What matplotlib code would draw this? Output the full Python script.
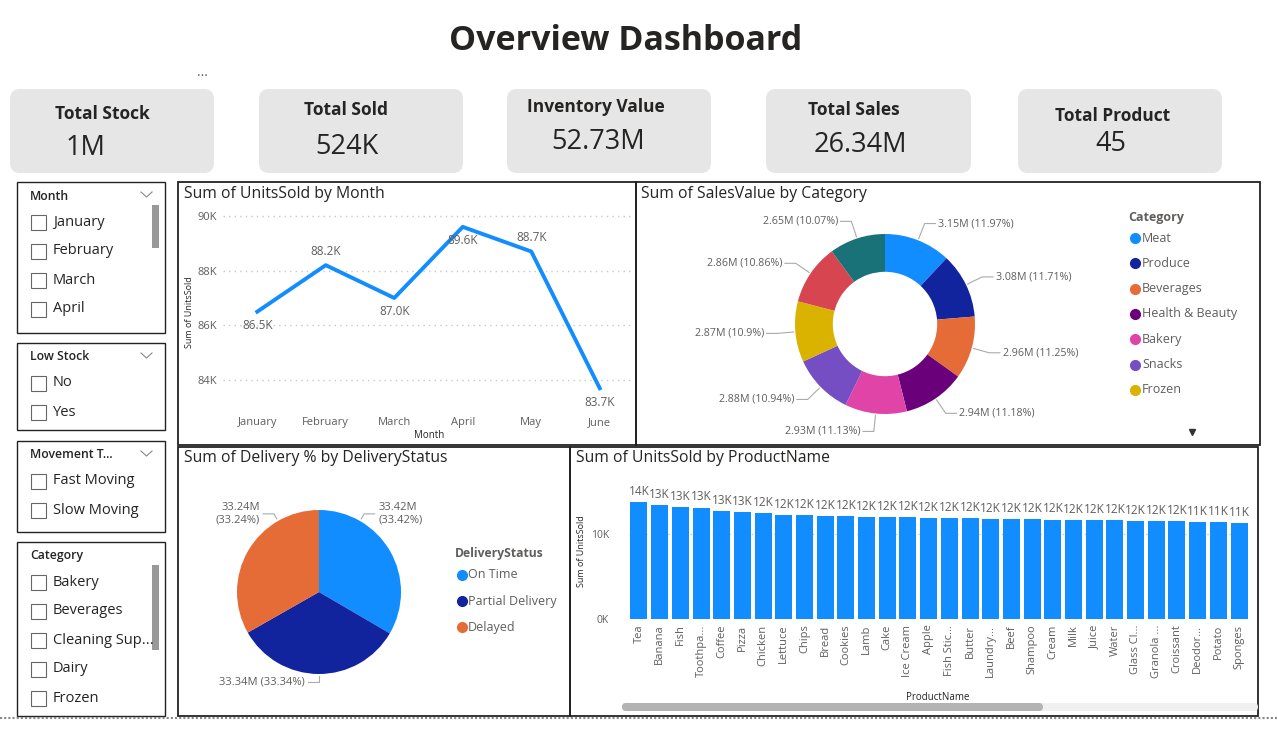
import matplotlib
matplotlib.use("Agg")
import matplotlib.pyplot as plt
from matplotlib.patches import FancyBboxPatch, Rectangle
import numpy as np

plt.rcParams['font.family'] = ['Open Sans', 'DejaVu Sans']

W, H = 1277, 739
DARK = '#252423'
GREY = '#605E5C'

# ---- data ----
kpi_names = ["Total Stock", "Total Sold", "Inventory Value", "Total Sales", "Total Product"]
kpi_values = ["1M", "524K", "52.73M", "26.34M", "45"]

months = ["January", "February", "March", "April", "May", "June"]
units_by_month = [86.5, 88.2, 87.0, 89.6, 88.7, 83.7]  # thousands

categories = ["Meat", "Produce", "Beverages", "Health & Beauty", "Bakery",
              "Snacks", "Frozen", "Dairy", "Cleaning Supplies"]
sales_by_cat = [3.15, 3.08, 2.96, 2.94, 2.93, 2.88, 2.87, 2.86, 2.65]  # millions
sales_pct = [11.97, 11.71, 11.25, 11.18, 11.13, 10.94, 10.9, 10.86, 10.07]
cat_colors = ['#118DFF', '#12239E', '#E66C37', '#6B007B', '#E044A7',
              '#744EC2', '#D9B300', '#D64550', '#197278']
legend_shown = 7

delivery_status = ["On Time", "Partial Delivery", "Delayed"]
delivery_vals = [33.42, 33.34, 33.24]
delivery_colors = ['#118DFF', '#12239E', '#E66C37']

products = ["Tea", "Banana", "Fish", "Toothpa...", "Coffee", "Pizza", "Chicken",
            "Lettuce", "Chips", "Bread", "Cookies", "Lamb", "Cake", "Ice Cream",
            "Apple", "Fish Stic...", "Butter", "Laundry...", "Beef", "Shampoo",
            "Cream", "Milk", "Juice", "Water", "Glass Cl...", "Granola ...",
            "Croissant", "Deodor...", "Potato", "Sponges"]
units_by_product = [13.76, 13.4, 13.2, 13.1, 12.7, 12.6, 12.5, 12.2, 12.2, 12.1,
                    12.1, 12.0, 12.0, 11.95, 11.9, 11.9, 11.85, 11.8, 11.8, 11.8,
                    11.7, 11.65, 11.65, 11.6, 11.55, 11.53, 11.52, 11.45, 11.4, 11.3]

month_items = ["January", "February", "March", "April"]
lowstock_items = ["No", "Yes"]
movement_items = ["Fast Moving", "Slow Moving"]
category_items = ["Bakery", "Beverages", "Cleaning Sup...", "Dairy", "Frozen"]

# ---- figure ----
fig = plt.figure(figsize=(W / 100, H / 100), dpi=100)
bg = fig.add_axes([0, 0, 1, 1], zorder=0)
bg.set_xlim(0, W)
bg.set_ylim(H, 0)
bg.axis('off')


def add_ax(x0, y0, x1, y1):
    a = fig.add_axes([x0 / W, 1 - y1 / H, (x1 - x0) / W, (y1 - y0) / H], zorder=2)
    a.patch.set_alpha(0)
    return a


bg.text(626, 41, "Overview Dashboard", fontsize=24.5, fontweight='bold',
        color=DARK, ha='center', va='center')
bg.text(202, 72, "...", fontsize=10, color=GREY, ha='center', va='center')

# KPI cards
card_x = [(10, 214), (259, 463), (507, 711), (766, 971), (1018, 1222)]
title_xy = [(102, 114), (346, 110), (596, 107), (854, 110), (1113, 116)]
value_xy = [(86, 148), (347, 147), (598, 142), (860, 145), (1111, 144)]
for (x0, x1), name, val, txy, vxy in zip(card_x, kpi_names, kpi_values, title_xy, value_xy):
    bg.add_patch(FancyBboxPatch((x0, 89), x1 - x0, 84,
                                boxstyle="round,pad=0,rounding_size=10",
                                fc='#E6E6E6', ec='none'))
    bg.text(*txy, name, fontsize=12.5, fontweight='bold', color=DARK,
            ha='center', va='center')
    bg.text(*vxy, val, fontsize=19.5, color=DARK, ha='center', va='center')

# slicers
slicers = [("Month", month_items, 182, 333, True, (205, 248)),
           ("Low Stock", lowstock_items, 343, 430, True, None),
           ("Movement T...", movement_items, 441, 532, True, None),
           ("Category", category_items, 542, 716, False, (565, 650))]
for title, items, y0, y1, chevron, scroll in slicers:
    bg.add_patch(Rectangle((17, y0), 148, y1 - y0, fc='white', ec='#222222', lw=1))
    bg.text(30, y0 + 14, title, fontsize=8.8, fontweight='semibold', color=DARK,
            va='center')
    if chevron:
        bg.plot([141, 146.5, 152], [y0 + 10, y0 + 15, y0 + 10], color='#888888', lw=0.8)
    if scroll:
        bg.add_patch(Rectangle((152, scroll[0]), 7, scroll[1] - scroll[0],
                               fc='#999999', ec='none'))
    for i, it in enumerate(items):
        yy = y0 + 40 + i * 29
        bg.add_patch(Rectangle((31, yy - 7.5), 15, 15, fc='white', ec='#666666', lw=0.8))
        bg.text(53, yy, it, fontsize=10.5, color=DARK, va='center')

# panel borders
panels = [(178, 182, 636, 445), (636, 182, 1260, 445),
          (178, 447, 570, 716), (570, 447, 1258, 716)]
for x0, y0, x1, y1 in panels:
    bg.add_patch(Rectangle((x0, y0), x1 - x0, y1 - y0, fill=False,
                           ec='#222222', lw=1.3))
bg.plot([0, W], [718, 718], color='#888888', ls=(0, (1, 1)), lw=1.5)

panel_titles = [(184, 194, "Sum of UnitsSold by Month"),
                (641, 194, "Sum of SalesValue by Category"),
                (184, 458, "Sum of Delivery % by DeliveryStatus"),
                (576, 458, "Sum of UnitsSold by ProductName")]
for x, y, t in panel_titles:
    bg.text(x, y, t, fontsize=11.3, color=DARK, va='center')

# ---- line chart ----
ax1 = add_ax(223, 205, 634, 400)
xs = np.arange(len(months))
ax1.plot(xs, units_by_month, color='#118DFF', lw=2.8)
ax1.set_xlim(-0.5, len(months) - 0.5)
ax1.set_ylim(83.27, 90.4)
ax1.set_yticks([84, 86, 88, 90])
ax1.set_yticklabels([f"{v}K" for v in [84, 86, 88, 90]])
ax1.set_xticks(xs)
ax1.set_xticklabels(months)
ax1.tick_params(length=0, labelsize=8, labelcolor=GREY)
ax1.tick_params(axis='x', pad=12)
ax1.tick_params(axis='y', pad=4)
ax1.yaxis.grid(True, ls=(0, (1, 3)), color='#C8C8C8', lw=1)
for s in ax1.spines.values():
    s.set_visible(False)
label_side = [-1, 1, -1, -1, 1, -1]
for x, v, side in zip(xs, units_by_month, label_side):
    ax1.annotate(f"{v:.1f}K", (x, v), xytext=(0, 10 * side), textcoords='offset points',
                 ha='center', va='center', fontsize=8.5, color=GREY)
bg.text(189, 312, "Sum of UnitsSold", rotation=90, fontsize=6.5, color=DARK,
        ha='center', va='center')
bg.text(429, 435, "Month", fontsize=7, color=DARK, ha='center', va='center')

# ---- donut ----
ax2 = add_ax(795, 234, 975, 414)
wedges, _ = ax2.pie(sales_by_cat, colors=cat_colors, startangle=90, counterclock=False,
                    radius=1, wedgeprops=dict(width=0.42, linewidth=0))
ax2.set_xlim(-1, 1)
ax2.set_ylim(-1, 1)
for w, v, p in zip(wedges, sales_by_cat, sales_pct):
    a = np.deg2rad((w.theta1 + w.theta2) / 2)
    c, s = np.cos(a), np.sin(a)
    sgn = 1 if c >= 0 else -1
    x1, y1 = 1.02 * c, 1.02 * s
    x2, y2 = 1.2 * c, 1.2 * s
    x3 = x2 + sgn * 0.12
    ax2.plot([x1, x2, x3], [y1, y2, y2], color='#AAAAAA', lw=0.8, clip_on=False)
    ax2.text(x3 + sgn * 0.03, y2, f"{v:.2f}M ({p:g}%)", fontsize=7.7, color=GREY,
             ha='left' if sgn > 0 else 'right', va='center', clip_on=False)

bg.text(1128, 217, "Category", fontsize=9, fontweight='bold', color=GREY, va='center')
for i, (name, col) in enumerate(zip(categories[:legend_shown], cat_colors)):
    yy = 238 + i * 25.3
    bg.plot(1135, yy, 'o', ms=7, color=col)
    bg.text(1142, yy, name, fontsize=9, color=GREY, va='center')
bg.plot(1192, 432, 'v', ms=5, color='#333333')

# ---- pie ----
ax3 = add_ax(237, 510, 401, 674)
pw, _ = ax3.pie(delivery_vals, colors=delivery_colors, startangle=90, counterclock=False,
                radius=1, wedgeprops=dict(linewidth=0))
ax3.set_xlim(-1, 1)
ax3.set_ylim(-1, 1)
pie_label_angles = [60, -90, 120]
pie_label_text = [f"{v:.2f}M\n({v:.2f}%)" for v in delivery_vals]
pie_label_text[1] = pie_label_text[1].replace("\n", " ")
for ang, txt in zip(pie_label_angles, pie_label_text):
    a = np.deg2rad(ang)
    c, s = np.cos(a), np.sin(a)
    sgn = 1 if c > 0.01 else -1
    x1, y1 = 1.03 * c, 1.03 * s
    x2, y2 = 1.1 * c, 1.1 * s
    x3 = x2 + sgn * 0.13
    ax3.plot([x1, x2, x3], [y1, y2, y2], color='#AAAAAA', lw=0.8, clip_on=False)
    ha = 'left' if sgn > 0 else 'right'
    ax3.text(x3 + sgn * 0.04, y2, txt, fontsize=8, color=GREY, ha=ha, va='center',
             multialignment=ha, linespacing=1.1, clip_on=False)

bg.text(455, 554, "DeliveryStatus", fontsize=8.7, fontweight='bold', color=GREY, va='center')
for i, (name, col) in enumerate(zip(delivery_status, delivery_colors)):
    yy = 575 + i * 26
    bg.plot(462, yy, 'o', ms=7, color=col)
    bg.text(468, yy, name, fontsize=9, color=GREY, va='center')

# ---- bar chart ----
ax4 = add_ax(628.6, 483, 1249.4, 619)
bx = np.arange(len(products))
ax4.bar(bx, units_by_product, width=0.82, color='#118DFF')
ax4.set_xlim(-0.5, len(products) - 0.5)
ax4.set_ylim(0, 16)
ax4.set_yticks([0, 10])
ax4.set_yticklabels(["0K", "10K"])
ax4.set_xticks(bx)
ax4.set_xticklabels(products, rotation=90)
ax4.tick_params(length=0, labelsize=8, labelcolor=GREY)
ax4.tick_params(axis='y', labelsize=7.5, pad=14)
ax4.tick_params(axis='x', pad=4)
ax4.yaxis.grid(True, ls=(0, (1, 3)), color='#C8C8C8', lw=1)
ax4.set_axisbelow(True)
for s in ax4.spines.values():
    s.set_visible(False)
for x, v in zip(bx, units_by_product):
    ax4.annotate(f"{round(v)}K", (x, v), xytext=(0, 3), textcoords='offset points',
                 ha='center', va='bottom', fontsize=8.5, color=GREY)
bg.text(582, 551, "Sum of UnitsSold", rotation=90, fontsize=6.5, color=DARK,
        ha='center', va='center')
bg.text(938, 697, "ProductName", fontsize=7, color=DARK, ha='center', va='center')
bg.add_patch(FancyBboxPatch((622, 703), 636, 8, boxstyle="round,pad=0,rounding_size=4",
                            fc='#F0F0F0', ec='none'))
bg.add_patch(FancyBboxPatch((622, 703), 421, 8, boxstyle="round,pad=0,rounding_size=4",
                            fc='#B3B3B3', ec='none'))

fig.savefig("out.png", dpi=100)
